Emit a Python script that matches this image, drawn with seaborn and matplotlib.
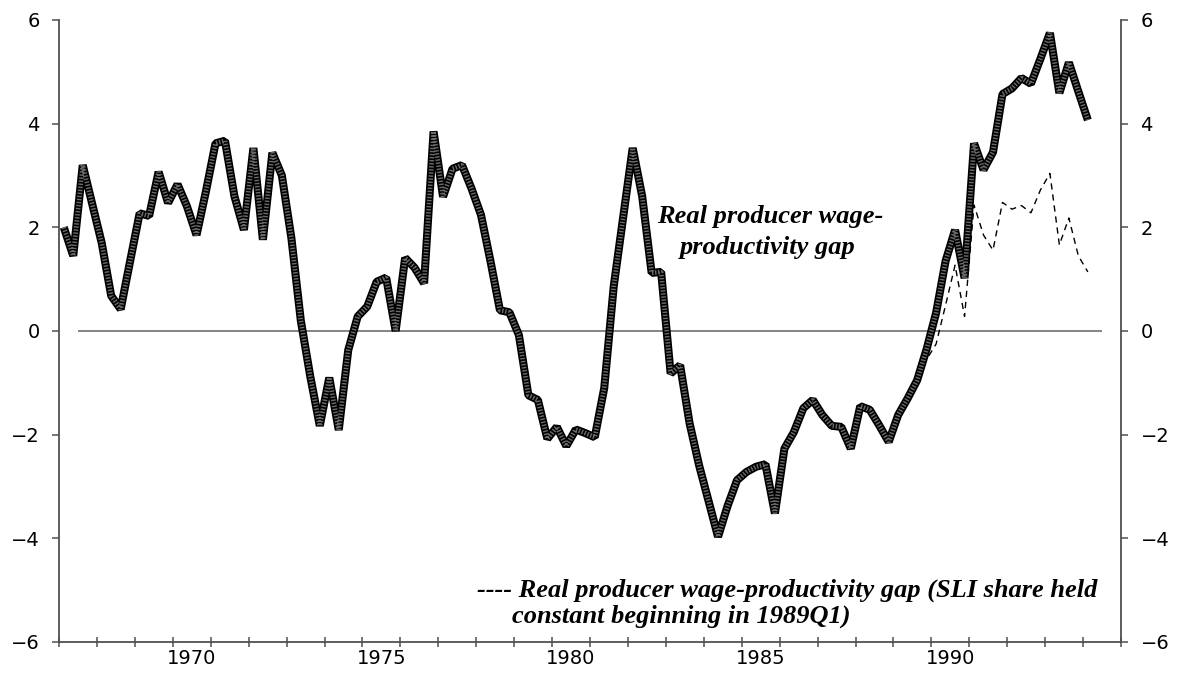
import numpy as np
import pandas as pd
import seaborn as sns
import matplotlib.pyplot as plt

# Quarterly series, 1967Q1 - 1994Q1
start_quarter = '1967Q1'
gap = [2.0, 1.45, 3.2, 2.45, 1.7, 0.68, 0.42, 1.35,
       2.27, 2.22, 3.07, 2.47, 2.83, 2.4, 1.85, 2.7,
       3.62, 3.67, 2.6, 1.95, 3.53, 1.76, 3.44, 3.0,
       1.8, 0.2, -0.88, -1.83, -0.9, -1.91, -0.37, 0.28,
       0.47, 0.95, 1.03, 0.0, 1.41, 1.22, 0.92, 3.85,
       2.59, 3.13, 3.2, 2.75, 2.24, 1.35, 0.4, 0.36,
       -0.08, -1.24, -1.33, -2.08, -1.85, -2.22, -1.9, -1.97,
       -2.05, -1.1, 0.86, 2.2, 3.53, 2.6, 1.12, 1.14,
       -0.82, -0.66, -1.78, -2.59, -3.28, -3.97, -3.38, -2.88,
       -2.72, -2.62, -2.57, -3.52, -2.27, -1.95, -1.49, -1.33,
       -1.62, -1.83, -1.85, -2.27, -1.45, -1.52, -1.82, -2.14,
       -1.62, -1.3, -0.95, -0.35, 0.35, 1.35, 1.95, 1.02,
       3.62, 3.11, 3.45, 4.57, 4.68, 4.88, 4.77, 5.25,
       5.75, 4.59, 5.18, 4.62, 4.07]

# SLI share held constant from 1989Q1
sli_start = '1989Q1'
gap_sli = [-1.62, -1.3, -0.95, -0.55, -0.25, 0.5, 1.27, 0.28,
           2.43, 1.85, 1.56, 2.48, 2.35, 2.42, 2.28, 2.72,
           3.04, 1.66, 2.18, 1.45, 1.14]

year_labels = [1970, 1975, 1980, 1985, 1990]


def to_decimal(start, n):
    p = pd.period_range(start, periods=n, freq='Q')
    return p.year + (p.quarter - 0.5) / 4


df = pd.DataFrame({'t': to_decimal(start_quarter, len(gap)), 'gap': gap})
df_sli = pd.DataFrame({'t': to_decimal(sli_start, len(gap_sli)), 'gap': gap_sli})

sns.set_style('ticks')
plt.rcParams['font.family'] = ['DejaVu Sans']

fig = plt.figure(figsize=(11.83, 6.73), dpi=100)
ax = fig.add_axes([0.0499, 0.0461, 0.8977, 0.9242])

ax.hlines(0, 1967.5, 1994.5, color='#707070', lw=1.2, zorder=1)

sns.lineplot(data=df_sli, x='t', y='gap', ax=ax, color='black', lw=1.0,
             linestyle=(0, (4.5, 3.5)), zorder=2)
# thick patterned line: black base + grey stripe on top
sns.lineplot(data=df, x='t', y='gap', ax=ax, color='black', lw=5.8,
             solid_joinstyle='bevel', solid_capstyle='butt', zorder=3)
sns.lineplot(data=df, x='t', y='gap', ax=ax, color='#6a6a6a', lw=3.4,
             linestyle=(0, (0.3, 0.35)), dash_joinstyle='bevel',
             dash_capstyle='butt', zorder=4)

ax.set_xlim(1967, 1995)
ax.set_ylim(-6, 6)
ax.set_yticks(range(-6, 7, 2))
ax.set_xticks(range(1967, 1996))
ax.set_xticklabels([])
ax.set_xticks([y + 0.5 for y in year_labels], minor=True)
ax.set_xticklabels([str(y) for y in year_labels], minor=True)
ax.set_xlabel('')
ax.set_ylabel('')

for side in ['left', 'right', 'bottom']:
    ax.spines[side].set_color('#505050')
    ax.spines[side].set_linewidth(1.3)
ax.spines['top'].set_visible(False)

ax.tick_params(axis='x', which='major', direction='inout', length=7,
               width=1.1, color='#505050')
ax.tick_params(axis='x', which='minor', length=0, pad=5, labelsize=14,
               labelcolor='black')
ax.tick_params(axis='y', direction='out', length=5, width=1.1, color='#505050',
               labelsize=14, labelcolor='black', pad=9, left=True, right=True,
               labelleft=True, labelright=True)

serif = dict(family=['Liberation Serif'], weight='bold', style='italic',
             fontsize=19, color='black')
ax.text(1985.75, 2.2, 'Real producer wage-', ha='center', va='center', **serif)
ax.text(1985.69, 1.62, 'productivity gap', ha='center', va='center', **serif)
ax.text(1978.02, -5.0, '---- Real producer wage-productivity gap (SLI share held',
        ha='left', va='center', **serif)
ax.text(1978.94, -5.5, 'constant beginning in 1989Q1)',
        ha='left', va='center', **serif)

fig.savefig('out.png', dpi=100)
